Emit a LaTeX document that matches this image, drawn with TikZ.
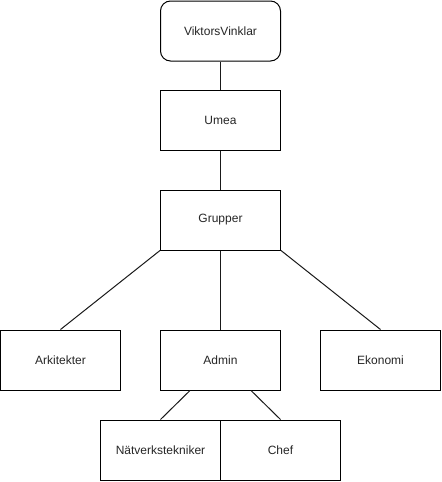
\documentclass[tikz,border=0pt]{standalone}
\usepackage{fontspec}
\setmainfont{Liberation Sans}
\begin{document}
\begin{tikzpicture}[x=0.75pt,y=-0.75pt,
  box/.style={draw=black,line width=0.75pt,fill=white,minimum width=90pt,minimum height=45pt,inner sep=0pt,font=\fontsize{9pt}{11pt}\selectfont,text=black!85},
  rbox/.style={box,rounded corners=7.5pt},
  conn/.style={draw=black!90,line width=0.75pt}]
\useasboundingbox (0,0) rectangle (442,482);
\node[rbox] (vv) at (220.5,31) {ViktorsVinklar};
\node[box] (umea) at (220.5,120) {Umea};
\node[box] (grp) at (220.5,220) {Grupper};
\node[box] (ark) at (60.5,360) {Arkitekter};
\node[box] (adm) at (220.5,360) {Admin};
\node[box] (eko) at (380.5,360) {Ekonomi};
\node[box] (nat) at (160.5,450) {Nätverkstekniker};
\node[box] (chef) at (280.5,450) {Chef};
\draw[conn] (vv.south) -- (umea.north);
\draw[conn] (umea.south) -- (grp.north);
\draw[conn] (grp.south west) -- (ark.north);
\draw[conn] (grp.south) -- (adm.north);
\draw[conn] (grp.south east) -- (eko.north);
\draw[conn] ([xshift=22.5pt]adm.south west) -- (nat.north);
\draw[conn] ([xshift=-22.5pt]adm.south east) -- (chef.north);
\end{tikzpicture}
\end{document}
